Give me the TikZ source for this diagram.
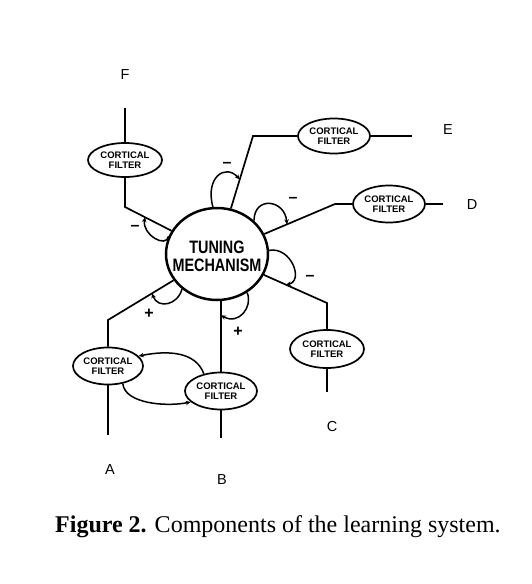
\documentclass[tikz,border=0pt]{standalone}
\usepackage{fontspec}
\setmainfont{Liberation Serif}
\setsansfont{Liberation Sans}
\usetikzlibrary{shapes.geometric,arrows.meta,calc}
\begin{document}
\begin{tikzpicture}[x=1pt,y=-1pt,
  conn/.style={line width=1.7pt},
  fb/.style={line width=1.5pt,-{Stealth[length=5pt,width=4.5pt]}},
  filt/.style={ellipse,draw,line width=1.7pt,minimum width=72pt,minimum height=36pt,inner sep=0pt,align=center,font=\sffamily\bfseries\fontsize{9.5}{10.5}\selectfont},
  lab/.style={inner sep=0pt,font=\sffamily\fontsize{14.5}{16}\selectfont},
  sgn/.style={inner sep=0pt,font=\sffamily\bfseries\fontsize{16}{16}\selectfont},
]
\useasboundingbox[fill=white] (0,0) rectangle (532,584);

% tuning mechanism
\node[ellipse,draw,line width=2.5pt,minimum width=102pt,minimum height=92pt,inner sep=0pt] (tm) at (217,254) {};
\node[align=center,inner sep=0pt,font=\sffamily\bfseries\fontsize{18}{18}\selectfont] (tmt) at (217,256)
  {\scalebox{0.8}[1]{TUNING}\\\scalebox{0.8}[1]{MECHANISM}};

% filters
\node[filt,minimum width=74pt,minimum height=34pt] (Ff) at (125,160) {CORTICAL\\FILTER};
\node[filt,minimum height=35pt] (Ef) at (334,136) {CORTICAL\\FILTER};
\node[filt,minimum height=37pt] (Df) at (389,204) {CORTICAL\\FILTER};
\node[filt,minimum width=74pt,minimum height=38pt] (Cf) at (327,349) {CORTICAL\\FILTER};
\node[filt,minimum height=37pt] (Bf) at (221,391) {CORTICAL\\FILTER};
\node[filt,minimum width=70pt,minimum height=37pt] (Af) at (108,366) {CORTICAL\\FILTER};

% labels
\node[lab] (LF) at (125,75) {F};
\node[lab] (LE) at (448,130) {E};
\node[lab] (LD) at (472,205) {D};
\node[lab] (LC) at (332,427) {C};
\node[lab] (LB) at (222,480) {B};
\node[lab] (LA) at (110,470) {A};

% coordinates
\coordinate (Ft) at (125,108);
\coordinate (Fb) at (125,207);
\coordinate (Eb) at (253,136);
\coordinate (Et) at (412,136);
\coordinate (Db) at (335,204);
\coordinate (Dt) at (443,204);
\coordinate (Cb) at (327,303);
\coordinate (Ct) at (327,392);
\coordinate (Bt) at (221,438);
\coordinate (Ab) at (108,320);
\coordinate (At) at (108,435);

% connectors
\draw[conn] (Ft) -- (Ff);
\draw[conn] (Ff) -- (Fb) -- (tm) coordinate[pos=0.43] (Fl);
\draw[conn] (Ef) -- (Eb) -- (tm) coordinate[pos=0.6] (El);
\draw[conn] (Ef) -- (Et);
\draw[conn] (Df) -- (Db) -- (tm) coordinate[pos=0.68] (Dl);
\draw[conn] (Df) -- (Dt);
\draw[conn] (tm) -- (Cb) coordinate[pos=0.35] (Cl) -- (Cf);
\draw[conn] (Cf) -- (Ct);
\draw[conn] (tm.south -| Bf) -- (Bf) coordinate[pos=0.2] (Bl);
\draw[conn] (Bf) -- (Bt);
\draw[conn] (tm) -- (Ab) coordinate[pos=0.33] (Al) -- (Af);
\draw[conn] (Af) -- (At);

% feedback loops
\draw[fb] (tm.160) .. controls +(-2,12) and +(-3,18) .. (Fl);
\draw[fb] (tm.95) .. controls +(-8,-30) and +(-14,-16) .. (El);
\draw[fb] (tm.42) .. controls +(0,-25) and +(-2,-25) .. (Dl);
\draw[fb] (tm.4) .. controls +(22,-4) and +(18,-4) .. (Cl);
\draw[fb] (tm.-52) .. controls +(6,14) and +(18,10) .. (Bl);
\draw[fb] (tm.-135) .. controls +(-4,16) and +(6,16) .. (Al);

% filter to filter
\draw[fb] (Bf.135) .. controls +(-8,-22) and +(30,-6) .. (Af.18);
\draw[fb] (Af.-50) .. controls +(2,20) and +(-25,5) .. (Bf.200);

% signs
\node[sgn] (sF) at (135,228) {–};
\node[sgn] (sE) at (227,165) {–};
\node[sgn] (sD) at (293,200) {–};
\node[sgn] (sC) at (310,278) {–};
\node[sgn] (sB) at (238,332) {+};
\node[sgn] (sA) at (149,314) {+};

% caption
\node[anchor=base west,inner sep=0pt,font=\fontsize{24}{28}\selectfont] (cap) at (55,532)
  {\textbf{Figure 2.} Components of the learning system.};
\end{tikzpicture}
\end{document}
